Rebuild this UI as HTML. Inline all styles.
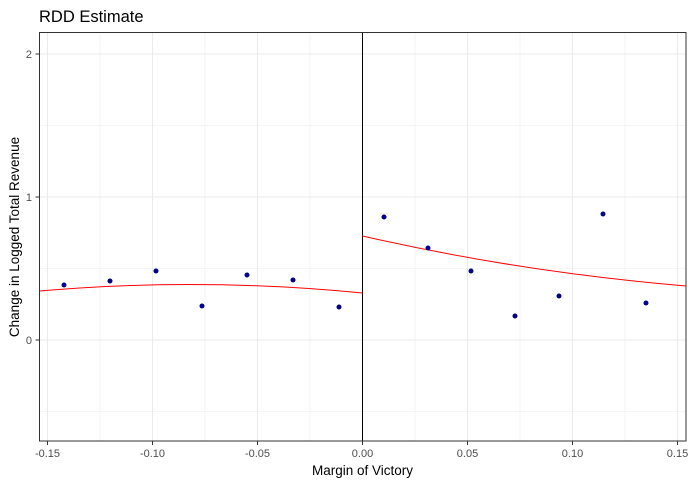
<!DOCTYPE html><html><head><style>body{margin:0;background:#fff}svg{display:block}text{font-family:"Liberation Sans",sans-serif}</style></head><body>
<svg width="693" height="486" viewBox="0 0 693 486">
<rect width="693" height="486" fill="#fff"/>
<g stroke="#ebebeb" stroke-width="0.6">
<line x1="39.5" x2="686" y1="125.5" y2="125.5"/><line x1="39.5" x2="686" y1="268.5" y2="268.5"/><line x1="39.5" x2="686" y1="411.5" y2="411.5"/>
<line x1="100" x2="100" y1="32.5" y2="441"/><line x1="205" x2="205" y1="32.5" y2="441"/><line x1="310" x2="310" y1="32.5" y2="441"/><line x1="415" x2="415" y1="32.5" y2="441"/><line x1="520" x2="520" y1="32.5" y2="441"/><line x1="625" x2="625" y1="32.5" y2="441"/>
</g>
<g stroke="#ebebeb" stroke-width="1.1">
<line x1="39.5" x2="686" y1="54" y2="54"/><line x1="39.5" x2="686" y1="197" y2="197"/><line x1="39.5" x2="686" y1="340" y2="340"/>
<line x1="47.5" x2="47.5" y1="32.5" y2="441"/><line x1="152.5" x2="152.5" y1="32.5" y2="441"/><line x1="257.5" x2="257.5" y1="32.5" y2="441"/><line x1="467.5" x2="467.5" y1="32.5" y2="441"/><line x1="572.5" x2="572.5" y1="32.5" y2="441"/><line x1="677.5" x2="677.5" y1="32.5" y2="441"/>
</g>
<line x1="362.5" x2="362.5" y1="32.5" y2="441" stroke="#000" stroke-width="1"/>
<path d="M39.5,291 Q200,277 362.5,293" fill="none" stroke="red" stroke-width="1"/>
<path d="M362.5,236 Q520,272 686,286" fill="none" stroke="red" stroke-width="1"/>
<g fill="#00008b">
<circle cx="64" cy="285" r="2.5"/><circle cx="110" cy="281" r="2.5"/><circle cx="156" cy="271" r="2.5"/><circle cx="202" cy="306" r="2.5"/><circle cx="247" cy="275" r="2.5"/><circle cx="293" cy="280" r="2.5"/><circle cx="339" cy="307" r="2.5"/>
<circle cx="384" cy="217" r="2.5"/><circle cx="428" cy="248" r="2.5"/><circle cx="471" cy="271" r="2.5"/><circle cx="515" cy="316" r="2.5"/><circle cx="559" cy="296" r="2.5"/><circle cx="603" cy="214" r="2.5"/><circle cx="646" cy="303" r="2.5"/>
</g>
<rect x="39.5" y="32.5" width="646.5" height="408.5" fill="none" stroke="#333" stroke-width="1"/>
<g stroke="#333" stroke-width="1">
<line x1="35.5" x2="39.5" y1="54" y2="54"/><line x1="35.5" x2="39.5" y1="197" y2="197"/><line x1="35.5" x2="39.5" y1="340" y2="340"/>
<line x1="47.5" x2="47.5" y1="441" y2="445"/><line x1="152.5" x2="152.5" y1="441" y2="445"/><line x1="257.5" x2="257.5" y1="441" y2="445"/><line x1="362.5" x2="362.5" y1="441" y2="445"/><line x1="467.5" x2="467.5" y1="441" y2="445"/><line x1="572.5" x2="572.5" y1="441" y2="445"/><line x1="677.5" x2="677.5" y1="441" y2="445"/>
</g>
<g fill="#4d4d4d" font-size="11" text-anchor="end">
<text x="32" y="58">2</text><text x="32" y="201">1</text><text x="32" y="344">0</text>
</g>
<g fill="#4d4d4d" font-size="11" text-anchor="middle">
<text x="47.5" y="457">-0.15</text><text x="152.5" y="457">-0.10</text><text x="257.5" y="457">-0.05</text><text x="362.5" y="457">0.00</text><text x="467.5" y="457">0.05</text><text x="572.5" y="457">0.10</text><text x="677.5" y="457">0.15</text>
</g>
<text x="362.5" y="475" font-size="13.5" text-anchor="middle" fill="#000">Margin of Victory</text>
<text transform="translate(19,237) rotate(-90)" font-size="13.5" text-anchor="middle" fill="#000">Change in Logged Total Revenue</text>
<text x="39" y="22" font-size="16.5" fill="#000">RDD Estimate</text>
</svg></body></html>
